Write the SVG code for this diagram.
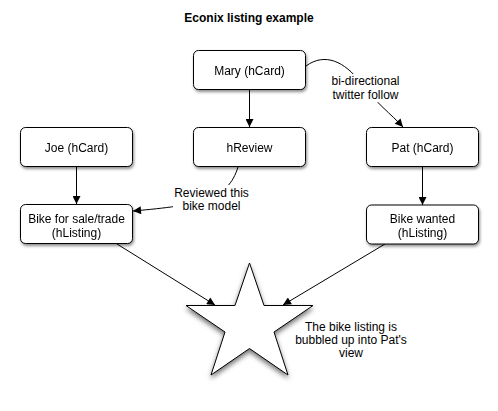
<svg xmlns="http://www.w3.org/2000/svg" width="498" height="411" viewBox="0 0 498 411">
<style>
text{font-family:"Liberation Sans",Arial,Helvetica,sans-serif;font-size:12px;fill:#000;text-anchor:middle}
.box{fill:#fff;stroke:#000;stroke-width:1}
.con{fill:none;stroke:#000;stroke-width:1}
.title{font-weight:bold}
</style>
<defs>
<filter id="sh" x="-20%" y="-20%" width="150%" height="160%">
<feDropShadow dx="1" dy="2" stdDeviation="1.5" flood-color="#000" flood-opacity="0.45"/>
</filter>
<filter id="shs" x="-20%" y="-20%" width="150%" height="150%">
<feDropShadow dx="0" dy="3" stdDeviation="2.5" flood-color="#000" flood-opacity="0.55"/>
</filter>
<marker id="arr" viewBox="0 0 10 10" refX="10" refY="5" markerWidth="9" markerHeight="8" orient="auto" markerUnits="userSpaceOnUse">
<path d="M0,0 L10,5 L0,10 z" fill="#000"/>
</marker>
</defs>
<rect width="498" height="411" fill="#fff"/>
<text class="title" x="249" y="22">Econix listing example</text>

<g id="connectors">
<path class="con" d="M249.5,90 L249.5,127" marker-end="url(#arr)"/>
<path class="con" d="M76.5,167 L76.5,204" marker-end="url(#arr)"/>
<path class="con" d="M422.5,167 L422.5,205" marker-end="url(#arr)"/>
<path class="con" d="M306,66 C325,52 345,62 360,82 S392,115 403,127" marker-end="url(#arr)"/>
<path class="con" d="M238,167 C228,200 200,205 133,211" marker-end="url(#arr)"/>
<path class="con" d="M117,244 L215,305" marker-end="url(#arr)"/>
<path class="con" d="M385,244 L283,305" marker-end="url(#arr)"/>
</g>

<g id="label-twitter">
<rect x="329" y="74" width="73" height="28" fill="#fff"/>
<text x="365.5" y="84.5">bi-directional</text>
<text x="365.5" y="98.5">twitter follow</text>
</g>
<g id="label-reviewed">
<rect x="173" y="185" width="78" height="28" fill="#fff"/>
<text x="211.5" y="196.5">Reviewed this</text>
<text x="211.5" y="210">bike model</text>
</g>

<g id="mary" filter="url(#sh)">
<rect class="box" x="193.5" y="50.5" width="112" height="39" rx="5"/>
<text x="249.5" y="74.5">Mary (hCard)</text>
</g>
<g id="hreview" filter="url(#sh)">
<rect class="box" x="193.5" y="127.5" width="112" height="39" rx="5"/>
<text x="249.5" y="151.5">hReview</text>
</g>
<g id="joe" filter="url(#sh)">
<rect class="box" x="20.5" y="127.5" width="112" height="39" rx="5"/>
<text x="76.5" y="151.5">Joe (hCard)</text>
</g>
<g id="pat" filter="url(#sh)">
<rect class="box" x="366.5" y="127.5" width="112" height="39" rx="5"/>
<text x="422.5" y="151.5">Pat (hCard)</text>
</g>
<g id="bike-sale" filter="url(#sh)">
<rect class="box" x="20.5" y="204.5" width="112" height="39" rx="5"/>
<text x="76.5" y="222.5">Bike for sale/trade</text>
<text x="76.5" y="236.5">(hListing)</text>
</g>
<g id="bike-wanted" filter="url(#sh)">
<rect class="box" x="366.5" y="205" width="112" height="39" rx="5"/>
<text x="422.5" y="223">Bike wanted</text>
<text x="422.5" y="237">(hListing)</text>
</g>
<g id="star">
<polygon filter="url(#shs)" fill="#fff" stroke="#000" stroke-width="1" points="249.5,263 264,305.5 313,305.5 274,332 288,375 249.5,348.5 211,375 225,332 186,305.5 235,305.5"/>
</g>
<g id="label-star">
<text x="351" y="331">The bike listing is</text>
<text x="351" y="344">bubbled up into Pat's</text>
<text x="351" y="357">view</text>
</g>
</svg>
